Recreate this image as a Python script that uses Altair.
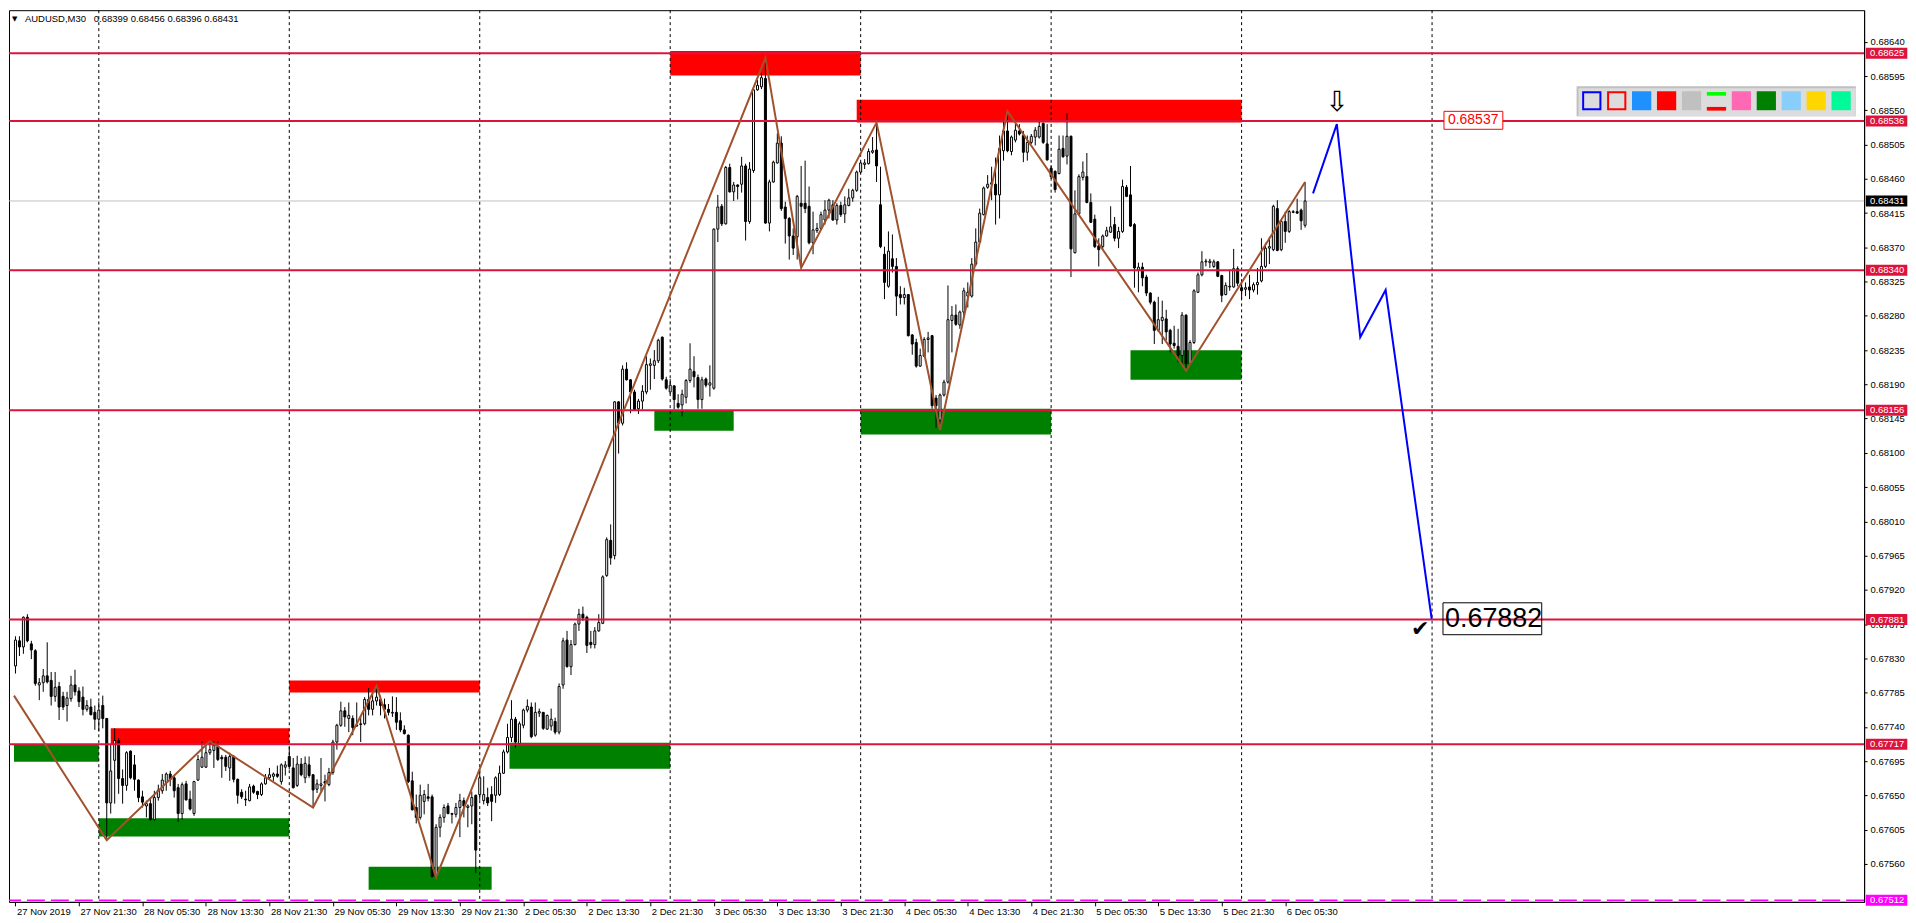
import altair as alt
import pandas as pd

FONT = "Liberation Sans"
W, H = 1860, 894

# ---------------- candle data: AUDUSD M30, bar 1 = 27 Nov 2019 13:30 ----------------
opens = [
    0.67820, 0.67853, 0.67845, 0.67884, 0.67849, 0.67840, 0.67795, 0.67798, 0.67807, 0.67801,
    0.67780, 0.67793, 0.67780, 0.67768, 0.67777, 0.67795, 0.67787, 0.67779, 0.67763, 0.67766,
    0.67759, 0.67750, 0.67768, 0.67751, 0.67640, 0.67696, 0.67722, 0.67672, 0.67663, 0.67708,
    0.67690, 0.67670, 0.67648, 0.67636, 0.67639, 0.67618, 0.67647, 0.67656, 0.67667, 0.67678,
    0.67673, 0.67660, 0.67626, 0.67665, 0.67645, 0.67626, 0.67670, 0.67687, 0.67687, 0.67706,
    0.67709, 0.67714, 0.67700, 0.67700, 0.67686, 0.67701, 0.67671, 0.67654, 0.67645, 0.67643,
    0.67662, 0.67655, 0.67651, 0.67665, 0.67673, 0.67675, 0.67678, 0.67668, 0.67687, 0.67701,
    0.67686, 0.67663, 0.67691, 0.67673, 0.67690, 0.67677, 0.67658, 0.67663, 0.67668, 0.67664,
    0.67680, 0.67720, 0.67742, 0.67761, 0.67751, 0.67751, 0.67742, 0.67743, 0.67744, 0.67776,
    0.67763, 0.67774, 0.67776, 0.67769, 0.67763, 0.67758, 0.67759, 0.67748, 0.67736, 0.67729,
    0.67669, 0.67634, 0.67621, 0.67642, 0.67648, 0.67648, 0.67543, 0.67608, 0.67621, 0.67636,
    0.67625, 0.67625, 0.67634, 0.67643, 0.67634, 0.67636, 0.67650, 0.67651, 0.67643, 0.67647,
    0.67651, 0.67650, 0.67651, 0.67679, 0.67707, 0.67726, 0.67750, 0.67718, 0.67742, 0.67762,
    0.67766, 0.67729, 0.67758, 0.67759, 0.67737, 0.67741, 0.67747, 0.67733, 0.67795, 0.67854,
    0.67819, 0.67848, 0.67875, 0.67888, 0.67884, 0.67851, 0.67848, 0.67866, 0.67876, 0.67939,
    0.67985, 0.67965, 0.68167, 0.68139, 0.68210, 0.68196, 0.68180, 0.68158, 0.68168, 0.68180,
    0.68215, 0.68215, 0.68221, 0.68252, 0.68196, 0.68180, 0.68188, 0.68165, 0.68163, 0.68173,
    0.68195, 0.68207, 0.68199, 0.68170, 0.68197, 0.68189, 0.68185, 0.68394, 0.68424, 0.68401,
    0.68475, 0.68443, 0.68452, 0.68453, 0.68477, 0.68404, 0.68471, 0.68577, 0.68581, 0.68592,
    0.68402, 0.68456, 0.68481, 0.68507, 0.68423, 0.68408, 0.68385, 0.68384, 0.68428, 0.68428,
    0.68424, 0.68376, 0.68392, 0.68395, 0.68406, 0.68419, 0.68426, 0.68406, 0.68425, 0.68414,
    0.68425, 0.68435, 0.68445, 0.68469, 0.68479, 0.68480, 0.68495, 0.68498, 0.68426, 0.68361,
    0.68319, 0.68355, 0.68345, 0.68308, 0.68304, 0.68308, 0.68255, 0.68245, 0.68214, 0.68227,
    0.68249, 0.68254, 0.68172, 0.68143, 0.68176, 0.68193, 0.68274, 0.68281, 0.68268, 0.68285,
    0.68306, 0.68306, 0.68348, 0.68377, 0.68413, 0.68449, 0.68453, 0.68453, 0.68439, 0.68497,
    0.68523, 0.68496, 0.68511, 0.68523, 0.68517, 0.68495, 0.68508, 0.68515, 0.68515, 0.68533,
    0.68506, 0.68474, 0.68470, 0.68467, 0.68500, 0.68490, 0.68516, 0.68363, 0.68414, 0.68462,
    0.68463, 0.68429, 0.68407, 0.68372, 0.68371, 0.68385, 0.68390, 0.68400, 0.68382, 0.68391,
    0.68449, 0.68439, 0.68400, 0.68340, 0.68344, 0.68331, 0.68310, 0.68298, 0.68261, 0.68274,
    0.68276, 0.68261, 0.68244, 0.68240, 0.68228, 0.68281, 0.68217, 0.68245, 0.68311, 0.68334,
    0.68351, 0.68350, 0.68345, 0.68351, 0.68333, 0.68308, 0.68318, 0.68318, 0.68342, 0.68317,
    0.68315, 0.68318, 0.68314, 0.68321, 0.68326, 0.68345, 0.68369, 0.68367, 0.68421, 0.68367,
    0.68404, 0.68391, 0.68416, 0.68417, 0.68419, 0.68399,
]
highs = [
    0.67859, 0.67859, 0.67885, 0.67888, 0.67853, 0.67842, 0.67804, 0.67816, 0.67851, 0.67812,
    0.67812, 0.67799, 0.67786, 0.67786, 0.67807, 0.67815, 0.67792, 0.67793, 0.67775, 0.67777,
    0.67768, 0.67773, 0.67781, 0.67751, 0.67716, 0.67738, 0.67725, 0.67684, 0.67708, 0.67709,
    0.67703, 0.67671, 0.67656, 0.67643, 0.67647, 0.67656, 0.67664, 0.67678, 0.67680, 0.67682,
    0.67676, 0.67665, 0.67667, 0.67669, 0.67656, 0.67669, 0.67703, 0.67721, 0.67716, 0.67721,
    0.67721, 0.67721, 0.67703, 0.67703, 0.67706, 0.67703, 0.67672, 0.67658, 0.67656, 0.67665,
    0.67664, 0.67656, 0.67667, 0.67678, 0.67686, 0.67680, 0.67689, 0.67692, 0.67695, 0.67714,
    0.67699, 0.67702, 0.67699, 0.67701, 0.67701, 0.67678, 0.67671, 0.67699, 0.67677, 0.67686,
    0.67723, 0.67744, 0.67773, 0.67766, 0.67772, 0.67755, 0.67772, 0.67755, 0.67779, 0.67791,
    0.67783, 0.67794, 0.67781, 0.67777, 0.67770, 0.67780, 0.67779, 0.67759, 0.67742, 0.67730,
    0.67681, 0.67651, 0.67664, 0.67657, 0.67665, 0.67651, 0.67612, 0.67625, 0.67638, 0.67640,
    0.67627, 0.67640, 0.67652, 0.67647, 0.67638, 0.67655, 0.67651, 0.67684, 0.67675, 0.67660,
    0.67662, 0.67675, 0.67689, 0.67710, 0.67744, 0.67775, 0.67753, 0.67747, 0.67764, 0.67776,
    0.67772, 0.67772, 0.67764, 0.67759, 0.67756, 0.67764, 0.67752, 0.67797, 0.67857, 0.67866,
    0.67854, 0.67877, 0.67895, 0.67898, 0.67886, 0.67866, 0.67871, 0.67888, 0.67939, 0.67989,
    0.68006, 0.68168, 0.68168, 0.68215, 0.68219, 0.68197, 0.68183, 0.68171, 0.68189, 0.68227,
    0.68224, 0.68235, 0.68250, 0.68253, 0.68200, 0.68197, 0.68189, 0.68177, 0.68183, 0.68197,
    0.68244, 0.68227, 0.68203, 0.68200, 0.68199, 0.68215, 0.68395, 0.68439, 0.68427, 0.68477,
    0.68480, 0.68456, 0.68453, 0.68489, 0.68480, 0.68482, 0.68581, 0.68590, 0.68599, 0.68619,
    0.68459, 0.68484, 0.68520, 0.68516, 0.68430, 0.68410, 0.68395, 0.68439, 0.68477, 0.68484,
    0.68450, 0.68417, 0.68402, 0.68417, 0.68432, 0.68434, 0.68432, 0.68428, 0.68430, 0.68437,
    0.68447, 0.68447, 0.68471, 0.68482, 0.68486, 0.68500, 0.68515, 0.68534, 0.68476, 0.68371,
    0.68391, 0.68387, 0.68356, 0.68319, 0.68317, 0.68308, 0.68256, 0.68250, 0.68237, 0.68252,
    0.68259, 0.68255, 0.68176, 0.68178, 0.68196, 0.68320, 0.68293, 0.68295, 0.68287, 0.68317,
    0.68324, 0.68356, 0.68395, 0.68421, 0.68450, 0.68465, 0.68476, 0.68488, 0.68517, 0.68536,
    0.68549, 0.68517, 0.68536, 0.68532, 0.68523, 0.68517, 0.68519, 0.68528, 0.68536, 0.68534,
    0.68532, 0.68478, 0.68471, 0.68517, 0.68517, 0.68546, 0.68517, 0.68445, 0.68466, 0.68483,
    0.68494, 0.68441, 0.68413, 0.68382, 0.68387, 0.68397, 0.68424, 0.68410, 0.68397, 0.68459,
    0.68452, 0.68477, 0.68402, 0.68350, 0.68350, 0.68334, 0.68311, 0.68300, 0.68305, 0.68300,
    0.68288, 0.68263, 0.68267, 0.68263, 0.68285, 0.68282, 0.68248, 0.68315, 0.68337, 0.68365,
    0.68355, 0.68355, 0.68354, 0.68352, 0.68334, 0.68324, 0.68341, 0.68368, 0.68345, 0.68328,
    0.68324, 0.68334, 0.68324, 0.68343, 0.68382, 0.68376, 0.68384, 0.68426, 0.68432, 0.68406,
    0.68417, 0.68419, 0.68419, 0.68434, 0.68421, 0.68456,
]
lows = [
    0.67810, 0.67833, 0.67836, 0.67851, 0.67829, 0.67794, 0.67775, 0.67786, 0.67797, 0.67768,
    0.67773, 0.67749, 0.67762, 0.67747, 0.67773, 0.67781, 0.67766, 0.67755, 0.67760, 0.67755,
    0.67736, 0.67734, 0.67738, 0.67591, 0.67626, 0.67639, 0.67652, 0.67639, 0.67656, 0.67671,
    0.67656, 0.67641, 0.67634, 0.67621, 0.67617, 0.67617, 0.67643, 0.67652, 0.67656, 0.67662,
    0.67647, 0.67615, 0.67618, 0.67643, 0.67630, 0.67623, 0.67669, 0.67686, 0.67686, 0.67703,
    0.67686, 0.67695, 0.67673, 0.67682, 0.67669, 0.67667, 0.67639, 0.67645, 0.67636, 0.67642,
    0.67652, 0.67645, 0.67649, 0.67664, 0.67671, 0.67669, 0.67673, 0.67664, 0.67676, 0.67684,
    0.67659, 0.67661, 0.67675, 0.67666, 0.67673, 0.67634, 0.67653, 0.67655, 0.67642, 0.67662,
    0.67677, 0.67710, 0.67740, 0.67740, 0.67733, 0.67729, 0.67740, 0.67720, 0.67742, 0.67755,
    0.67755, 0.67768, 0.67755, 0.67751, 0.67755, 0.67753, 0.67736, 0.67733, 0.67730, 0.67666,
    0.67630, 0.67613, 0.67618, 0.67625, 0.67642, 0.67543, 0.67542, 0.67595, 0.67614, 0.67625,
    0.67613, 0.67621, 0.67595, 0.67621, 0.67608, 0.67612, 0.67548, 0.67644, 0.67638, 0.67636,
    0.67616, 0.67640, 0.67649, 0.67678, 0.67705, 0.67720, 0.67712, 0.67716, 0.67738, 0.67759,
    0.67725, 0.67727, 0.67753, 0.67736, 0.67736, 0.67735, 0.67730, 0.67730, 0.67790, 0.67818,
    0.67808, 0.67847, 0.67866, 0.67879, 0.67837, 0.67843, 0.67843, 0.67865, 0.67875, 0.67937,
    0.67953, 0.67960, 0.68099, 0.68136, 0.68195, 0.68152, 0.68156, 0.68151, 0.68157, 0.68177,
    0.68183, 0.68197, 0.68218, 0.68195, 0.68183, 0.68177, 0.68157, 0.68158, 0.68148, 0.68165,
    0.68192, 0.68186, 0.68158, 0.68158, 0.68186, 0.68174, 0.68183, 0.68377, 0.68398, 0.68400,
    0.68442, 0.68431, 0.68433, 0.68442, 0.68379, 0.68401, 0.68468, 0.68576, 0.68578, 0.68401,
    0.68391, 0.68455, 0.68480, 0.68418, 0.68375, 0.68354, 0.68360, 0.68354, 0.68343, 0.68415,
    0.68374, 0.68361, 0.68389, 0.68393, 0.68400, 0.68408, 0.68405, 0.68400, 0.68410, 0.68402,
    0.68424, 0.68430, 0.68443, 0.68467, 0.68473, 0.68479, 0.68493, 0.68456, 0.68369, 0.68302,
    0.68317, 0.68337, 0.68280, 0.68295, 0.68295, 0.68253, 0.68229, 0.68212, 0.68213, 0.68226,
    0.68232, 0.68158, 0.68133, 0.68130, 0.68174, 0.68191, 0.68232, 0.68267, 0.68263, 0.68278,
    0.68291, 0.68304, 0.68345, 0.68376, 0.68412, 0.68447, 0.68432, 0.68400, 0.68408, 0.68484,
    0.68495, 0.68491, 0.68508, 0.68517, 0.68482, 0.68484, 0.68506, 0.68504, 0.68513, 0.68506,
    0.68484, 0.68460, 0.68442, 0.68466, 0.68488, 0.68479, 0.68331, 0.68362, 0.68413, 0.68458,
    0.68428, 0.68402, 0.68369, 0.68345, 0.68367, 0.68384, 0.68389, 0.68378, 0.68369, 0.68389,
    0.68436, 0.68397, 0.68317, 0.68311, 0.68319, 0.68306, 0.68295, 0.68243, 0.68259, 0.68243,
    0.68248, 0.68232, 0.68237, 0.68219, 0.68217, 0.68208, 0.68215, 0.68243, 0.68310, 0.68332,
    0.68345, 0.68343, 0.68343, 0.68331, 0.68298, 0.68307, 0.68313, 0.68317, 0.68319, 0.68302,
    0.68306, 0.68302, 0.68311, 0.68308, 0.68324, 0.68343, 0.68348, 0.68365, 0.68365, 0.68365,
    0.68376, 0.68389, 0.68415, 0.68414, 0.68393, 0.68396,
]
closes = [
    0.67854, 0.67845, 0.67884, 0.67853, 0.67841, 0.67797, 0.67798, 0.67807, 0.67799, 0.67780,
    0.67792, 0.67766, 0.67766, 0.67778, 0.67795, 0.67786, 0.67773, 0.67763, 0.67768, 0.67756,
    0.67750, 0.67762, 0.67751, 0.67640, 0.67682, 0.67722, 0.67672, 0.67663, 0.67706, 0.67673,
    0.67671, 0.67647, 0.67641, 0.67639, 0.67618, 0.67647, 0.67657, 0.67670, 0.67678, 0.67671,
    0.67656, 0.67626, 0.67664, 0.67644, 0.67632, 0.67668, 0.67697, 0.67700, 0.67706, 0.67710,
    0.67716, 0.67697, 0.67698, 0.67688, 0.67701, 0.67671, 0.67650, 0.67648, 0.67644, 0.67661,
    0.67654, 0.67651, 0.67665, 0.67673, 0.67677, 0.67678, 0.67675, 0.67690, 0.67690, 0.67688,
    0.67660, 0.67691, 0.67677, 0.67692, 0.67676, 0.67657, 0.67665, 0.67665, 0.67666, 0.67680,
    0.67720, 0.67742, 0.67761, 0.67753, 0.67755, 0.67739, 0.67741, 0.67744, 0.67776, 0.67763,
    0.67774, 0.67779, 0.67768, 0.67763, 0.67759, 0.67759, 0.67746, 0.67736, 0.67731, 0.67668,
    0.67631, 0.67621, 0.67650, 0.67651, 0.67646, 0.67543, 0.67608, 0.67621, 0.67634, 0.67626,
    0.67626, 0.67634, 0.67643, 0.67636, 0.67636, 0.67647, 0.67578, 0.67673, 0.67651, 0.67640,
    0.67642, 0.67673, 0.67679, 0.67707, 0.67726, 0.67750, 0.67720, 0.67744, 0.67762, 0.67767,
    0.67727, 0.67759, 0.67760, 0.67738, 0.67755, 0.67750, 0.67733, 0.67793, 0.67853, 0.67819,
    0.67848, 0.67875, 0.67888, 0.67883, 0.67847, 0.67848, 0.67866, 0.67877, 0.67937, 0.67986,
    0.67962, 0.68167, 0.68139, 0.68210, 0.68196, 0.68180, 0.68157, 0.68168, 0.68181, 0.68216,
    0.68217, 0.68221, 0.68248, 0.68197, 0.68185, 0.68189, 0.68170, 0.68160, 0.68177, 0.68195,
    0.68210, 0.68200, 0.68170, 0.68196, 0.68189, 0.68192, 0.68394, 0.68423, 0.68401, 0.68475,
    0.68443, 0.68452, 0.68450, 0.68477, 0.68404, 0.68473, 0.68577, 0.68583, 0.68593, 0.68402,
    0.68456, 0.68482, 0.68507, 0.68421, 0.68408, 0.68385, 0.68369, 0.68437, 0.68424, 0.68421,
    0.68376, 0.68393, 0.68395, 0.68413, 0.68419, 0.68432, 0.68406, 0.68425, 0.68413, 0.68426,
    0.68435, 0.68445, 0.68469, 0.68481, 0.68481, 0.68496, 0.68497, 0.68477, 0.68371, 0.68324,
    0.68365, 0.68345, 0.68306, 0.68304, 0.68308, 0.68254, 0.68243, 0.68214, 0.68228, 0.68249,
    0.68251, 0.68162, 0.68162, 0.68176, 0.68193, 0.68275, 0.68281, 0.68269, 0.68285, 0.68313,
    0.68311, 0.68348, 0.68377, 0.68415, 0.68448, 0.68453, 0.68455, 0.68439, 0.68500, 0.68523,
    0.68497, 0.68515, 0.68524, 0.68519, 0.68495, 0.68508, 0.68516, 0.68524, 0.68529, 0.68508,
    0.68485, 0.68463, 0.68446, 0.68499, 0.68489, 0.68516, 0.68368, 0.68414, 0.68463, 0.68469,
    0.68429, 0.68403, 0.68371, 0.68367, 0.68385, 0.68392, 0.68397, 0.68382, 0.68391, 0.68450,
    0.68437, 0.68398, 0.68343, 0.68344, 0.68330, 0.68310, 0.68298, 0.68261, 0.68275, 0.68278,
    0.68259, 0.68243, 0.68241, 0.68228, 0.68281, 0.68217, 0.68245, 0.68313, 0.68334, 0.68351,
    0.68352, 0.68352, 0.68351, 0.68332, 0.68307, 0.68320, 0.68319, 0.68342, 0.68323, 0.68313,
    0.68317, 0.68314, 0.68321, 0.68324, 0.68345, 0.68369, 0.68371, 0.68424, 0.68366, 0.68404,
    0.68391, 0.68417, 0.68417, 0.68415, 0.68405, 0.68431,
]

# ---------------- axis ticks ----------------
x_tick_bars = [1, 17, 33, 49, 65, 81, 97, 113, 129, 145, 161, 177, 193, 209, 225, 241, 257, 273, 289, 305, 321]
x_tick_labels = [
    "27 Nov 2019", "27 Nov 21:30", "28 Nov 05:30", "28 Nov 13:30", "28 Nov 21:30",
    "29 Nov 05:30", "29 Nov 13:30", "29 Nov 21:30", "2 Dec 05:30", "2 Dec 13:30",
    "2 Dec 21:30", "3 Dec 05:30", "3 Dec 13:30", "3 Dec 21:30", "4 Dec 05:30",
    "4 Dec 13:30", "4 Dec 21:30", "5 Dec 05:30", "5 Dec 13:30", "5 Dec 21:30", "6 Dec 05:30",
]
y_ticks = [
    0.68640, 0.68595, 0.68550, 0.68505, 0.68460, 0.68415, 0.68370, 0.68325, 0.68280,
    0.68235, 0.68190, 0.68145, 0.68100, 0.68055, 0.68010, 0.67965, 0.67920, 0.67875,
    0.67830, 0.67785, 0.67740, 0.67695, 0.67650, 0.67605, 0.67560,
]
day_separators = [22, 70, 118, 166, 214, 262, 310, 358]

# ---------------- levels & objects ----------------
level_prices = [0.68625, 0.68536, 0.68340, 0.68156, 0.67881, 0.67717]
bid_price = 0.68431
low_mark_price = 0.67512

tag_prices = [0.68625, 0.68536, 0.68431, 0.68340, 0.68156, 0.67881, 0.67717, 0.67512]
tag_colors = ["#DC143C", "#DC143C", "#000000", "#DC143C", "#DC143C", "#DC143C", "#DC143C", "#FF00FF"]

zone_start = [166, 213, 25, 70, 0.625, 22, 90, 125.5, 162, 214, 282]
zone_end = [214, 310, 70, 118, 22, 70, 121, 166, 182, 262, 310]
zone_low = [0.68596, 0.68534, 0.67717, 0.67785, 0.67694, 0.67596, 0.67526, 0.67685, 0.68129, 0.68124, 0.68196]
zone_high = [0.68628, 0.68564, 0.67738, 0.67801, 0.67716, 0.67620, 0.67556, 0.67719, 0.68155, 0.68158, 0.68235]
zone_color = ["#FF0000", "#FF0000", "#FF0000", "#FF0000",
              "#008000", "#008000", "#008000", "#008000", "#008000", "#008000", "#008000"]

zigzag_bar = [0.625, 24, 50, 76, 92, 107, 190, 199, 218, 234, 251, 296, 326]
zigzag_price = [0.67781, 0.67591, 0.67721, 0.67634, 0.67794, 0.67542, 0.68619,
                0.68343, 0.68534, 0.68130, 0.68549, 0.68208, 0.68456]

proj_bar = [328.0, 334.0, 339.9, 346.3, 357.9]
proj_price = [0.68441, 0.68532, 0.68252, 0.68314, 0.67882]

target_bar, target_price, target_text = 361, 0.68537, "0.68537"
goal_bar, goal_price, goal_text = 360.75, 0.67882, "0.67882"
check_bar, check_price = 355, 0.67868
arrow_bar, arrow_price = 334, 0.68560

palette_colors = ["#0000FF", "#FF0000", "#1E90FF", "#FF0000", "#C0C0C0", "",
                  "#FF69B4", "#008000", "#87CEFA", "#FFD700", "#00FA9A"]
palette_style = ["outline", "outline", "fill", "fill", "fill", "bars",
                 "fill", "fill", "fill", "fill", "fill"]

# ---------------- tables ----------------
n = len(opens)
candles = pd.DataFrame({"bar": list(range(1, n + 1)), "open": opens, "high": highs,
                        "low": lows, "close": closes})
candles["body_fill"] = ["white" if c >= o else "black" for o, c in zip(opens, closes)]

zones = pd.DataFrame({"x0": zone_start, "x1": zone_end, "lo": zone_low, "hi": zone_high, "col": zone_color})
zz = pd.DataFrame({"bar": zigzag_bar, "p": zigzag_price, "i": list(range(len(zigzag_bar)))})
pj = pd.DataFrame({"bar": proj_bar, "p": proj_price, "i": list(range(len(proj_bar)))})
tags = pd.DataFrame({"p": tag_prices, "col": tag_colors,
                     "txt": [f"{v:.5f}" for v in tag_prices]})
dummy = pd.DataFrame({"d": [0]})

# ---------------- scales & axes ----------------
x_scale = alt.Scale(domain=[0.625, 465.625], nice=False, zero=False)
y_scale = alt.Scale(domain=[0.675100, 0.686817], nice=False, zero=False)

xlab_expr = ("[" + ",".join(f"'{s}'" for s in x_tick_labels) + "][indexof(["
             + ",".join(str(v) for v in x_tick_bars) + "], datum.value)]")

x_axis = alt.Axis(values=x_tick_bars, labelExpr=xlab_expr, orient="bottom", tickSize=4,
                  labelAlign="left", labelBaseline="top", labelPadding=1, labelOffset=1,
                  labelOverlap=False, labelFlush=False, grid=False, title=None,
                  domainColor="black", tickColor="black", labelColor="black",
                  labelFont=FONT, labelFontSize=9.5, domainWidth=1, tickWidth=1)
y_axis = alt.Axis(values=y_ticks, format=".5f", orient="right", tickSize=3, labelPadding=3,
                  labelOverlap=False, labelFlush=False, grid=False, title=None,
                  domainColor="black", tickColor="black", labelColor="black",
                  labelFont=FONT, labelFontSize=9.5, domainWidth=1, tickWidth=1)


def X(f):
    return alt.X(f, type="quantitative", scale=x_scale, axis=x_axis)


def Y(f):
    return alt.Y(f, type="quantitative", scale=y_scale, axis=y_axis)


layers = []

# zones (background)
layers.append(alt.Chart(zones).mark_rect().encode(
    x=X("x0"), x2=alt.X2("x1"), y=Y("lo"), y2=alt.Y2("hi"),
    color=alt.Color("col:N", scale=None)))

# day separators
layers.append(alt.Chart(pd.DataFrame({"bar": day_separators})).mark_rule(
    color="black", strokeWidth=1, strokeDash=[3, 3]).encode(x=X("bar")))

# bid line
layers.append(alt.Chart(pd.DataFrame({"p": [bid_price]})).mark_rule(
    color="#C0C0C0", strokeWidth=1).encode(y=Y("p")))

# magenta dashed low line
layers.append(alt.Chart(pd.DataFrame({"p": [low_mark_price]})).mark_rule(
    color="#FF00FF", strokeWidth=1.5, strokeDash=[18, 6]).encode(y=Y("p")))

# candles
layers.append(alt.Chart(candles).mark_rule(color="black", strokeWidth=1).encode(
    x=X("bar"), y=Y("low"), y2=alt.Y2("high")))
layers.append(alt.Chart(candles).mark_bar(size=2, stroke="black", strokeWidth=1).encode(
    x=X("bar"), y=Y("open"), y2=alt.Y2("close"), fill=alt.Fill("body_fill:N", scale=None)))

# horizontal levels
layers.append(alt.Chart(pd.DataFrame({"p": level_prices})).mark_rule(
    color="#DC143C", strokeWidth=2).encode(y=Y("p")))

# zigzag
layers.append(alt.Chart(zz).mark_line(color="#A0522D", strokeWidth=2).encode(
    x=X("bar"), y=Y("p"), order="i:Q"))

# projection
layers.append(alt.Chart(pj).mark_line(color="#0000FF", strokeWidth=2).encode(
    x=X("bar"), y=Y("p"), order="i:Q"))

# target label 0.68537
tdf = pd.DataFrame({"bar": [target_bar], "p": [target_price], "t": [target_text]})
layers.append(alt.Chart(tdf).mark_rect(fill="white", stroke="#FF0000", strokeWidth=1,
                                       xOffset=0, x2Offset=59, yOffset=-9, y2Offset=9).encode(
    x=X("bar"), x2=alt.X2("bar"), y=Y("p"), y2=alt.Y2("p")))
layers.append(alt.Chart(tdf).mark_text(align="left", baseline="middle", dx=4, font=FONT,
                                       fontSize=14, color="#FF0000").encode(
    x=X("bar"), y=Y("p"), text="t:N"))

# goal label 0.67882
gdf = pd.DataFrame({"bar": [goal_bar], "p": [goal_price], "t": [goal_text]})
layers.append(alt.Chart(gdf).mark_rect(fillOpacity=0, stroke="black", strokeWidth=1,
                                       xOffset=0, x2Offset=99, yOffset=-16, y2Offset=16).encode(
    x=X("bar"), x2=alt.X2("bar"), y=Y("p"), y2=alt.Y2("p")))
layers.append(alt.Chart(gdf).mark_text(align="left", baseline="middle", dx=2, font=FONT,
                                       fontSize=27, color="black").encode(
    x=X("bar"), y=Y("p"), text="t:N"))

# check mark and arrow
layers.append(alt.Chart(pd.DataFrame({"bar": [check_bar], "p": [check_price]})).mark_text(
    text="\u2714", font="DejaVu Sans", fontSize=22, color="black", baseline="middle").encode(
    x=X("bar"), y=Y("p")))
layers.append(alt.Chart(pd.DataFrame({"bar": [arrow_bar], "p": [arrow_price]})).mark_text(
    text="\u21E9", font="DejaVu Sans", fontSize=28, color="black", baseline="middle").encode(
    x=X("bar"), y=Y("p")))

# price tags on the axis
layers.append(alt.Chart(tags).mark_rect(yOffset=-5.5, y2Offset=5.5).encode(
    x=alt.value(W + 1.7), x2=alt.value(W + 43.3), y=Y("p"), y2=alt.Y2("p"),
    color=alt.Color("col:N", scale=None)))
layers.append(alt.Chart(tags).mark_text(align="left", baseline="middle", font=FONT,
                                        fontSize=9.5, color="white").encode(
    x=alt.value(W + 6), y=Y("p"), text="txt:N"))

# title
layers.append(alt.Chart(dummy).mark_text(text="\u25BC", font="DejaVu Sans", fontSize=7,
                                         align="left", baseline="middle", color="black").encode(
    x=alt.value(3), y=alt.value(9)))
layers.append(alt.Chart(dummy).mark_text(text="AUDUSD,M30", font=FONT, fontSize=9.5,
                                         align="left", baseline="middle", color="black").encode(
    x=alt.value(16), y=alt.value(9)))
ohlc_text = f"{opens[-1]:.5f} {highs[-1]:.5f} {lows[-1]:.5f} {closes[-1]:.5f}"
layers.append(alt.Chart(dummy).mark_text(text=ohlc_text, font=FONT, fontSize=9.5,
                                         align="left", baseline="middle", color="black").encode(
    x=alt.value(85), y=alt.value(9)))


# colour palette panel (top right)
def px_rect(x0, x1, y0, y1, **kw):
    return alt.Chart(dummy).mark_rect(**kw).encode(
        x=alt.value(x0), x2=alt.value(x1), y=alt.value(y0), y2=alt.value(y1))


layers.append(px_rect(W - 288.3, W - 8.3, 76.3, 106.3, fill="#C0C0C0"))
layers.append(px_rect(W - 286.3, W - 8.3, 78.3, 106.3, fill="#DCDCDC"))
for i, (col, sty) in enumerate(zip(palette_colors, palette_style)):
    x0 = W - 282.7 + 25 * i
    if sty == "outline":
        layers.append(px_rect(x0 + 1, x0 + 18.3, 82.3, 99.3, fill="#DCDCDC", stroke=col, strokeWidth=2))
    elif sty == "bars":
        layers.append(px_rect(x0, x0 + 19.3, 82, 85.7, fill="#00FF00"))
        layers.append(px_rect(x0, x0 + 19.3, 97, 100.7, fill="#FF0000"))
    else:
        layers.append(px_rect(x0, x0 + 19.3, 81.3, 100.3, fill=col))

chart = alt.layer(*layers).properties(
    width=W, height=H, padding=0, background="white"
).configure_view(stroke="black", strokeWidth=1)

chart.save("out.html", embed_options={"renderer": "svg", "actions": False})
